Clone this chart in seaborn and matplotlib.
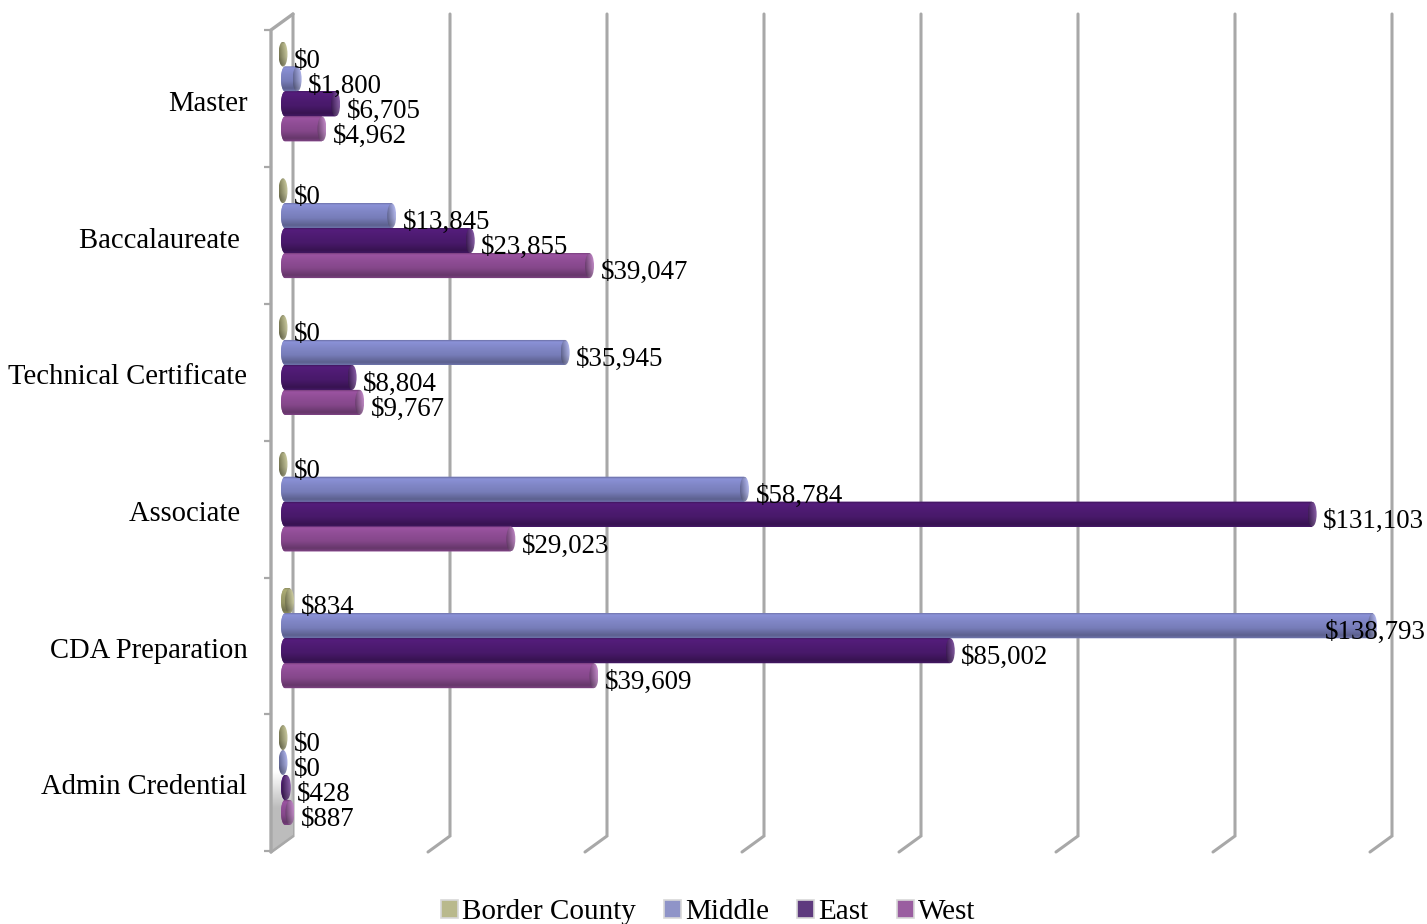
import numpy as np
import pandas as pd
import matplotlib
matplotlib.use("Agg")
import matplotlib.pyplot as plt
from matplotlib.patches import Ellipse, Polygon, Patch
from matplotlib.transforms import ScaledTranslation
from matplotlib.colors import to_rgb
import seaborn as sns

categories = ["Master", "Baccalaureate ", "Technical Certificate", "Associate ", "CDA Preparation", "Admin Credential"]
border_county = [0, 0, 0, 0, 834, 0]
middle = [1800, 13845, 35945, 58784, 138793, 0]
east = [6705, 23855, 8804, 131103, 85002, 428]
west = [4962, 39047, 9767, 29023, 39609, 887]
regions = ["Border County", "Middle", "East", "West"]
colors = ["#9a9a68", "#7c82c0", "#4b1a6e", "#8a4a90"]
legend_colors = ["#b9b98c", "#8f94c8", "#5e3a7e", "#9a5ea0"]
grid_values = [0, 20000, 40000, 60000, 80000, 100000, 120000, 140000]

W, H = 1427, 924
X0, SX = 283.0, 0.00785     # pixel of $0, pixels per dollar
Y0, SY = 91.5, 136.7        # pixel of first category, pixels per category
AX_LEFT = 264

def dx(p):  # pixel distance to dollars
    return p / SX
def xp(p):  # pixel to dollars
    return (p - X0) / SX
def yp(p):  # pixel to category units
    return (p - Y0) / SY

frame = pd.DataFrame({
    "Degree": np.tile(categories, 4),
    "Region": np.repeat(regions, 6),
    "Funding": border_county + middle + east + west,
})

sns.set_theme(style="white")
plt.rcParams["font.family"] = ["Liberation Serif", "DejaVu Serif"]

fig = plt.figure(figsize=(W / 100, H / 100), dpi=100)
ax = fig.add_axes([AX_LEFT / W, 0, 1 - AX_LEFT / W, 1])
sns.barplot(data=frame, y="Degree", x="Funding", hue="Region", order=categories,
            hue_order=regions, palette=colors, width=0.73, saturation=1,
            legend=False, ax=ax, zorder=3, linewidth=0)
ax.set_xlabel("")
ax.set_ylabel("")
ax.set_xticks([])
for s in ax.spines.values():
    s.set_visible(False)
ax.patch.set_alpha(0)

# value axis gridlines: back wall and the slanted floor piece
GRID = "#a8a8a8"
for v in grid_values:
    ax.plot([v + dx(10), v + dx(10), v - dx(12)], [yp(14), yp(836), yp(852)],
            color=GRID, lw=2.2, zorder=1, solid_joinstyle="miter")

# side wall
ax.plot([xp(271), xp(271), xp(293)], [yp(852), yp(30), yp(14)], color=GRID, lw=2.4, zorder=2,
        solid_joinstyle="miter")
ax.plot([xp(271), xp(293)], [yp(852), yp(836)], color=GRID, lw=1.5, zorder=2)
wall = Polygon([(xp(271), yp(852)), (xp(271), yp(760)), (xp(293), yp(760)), (xp(293), yp(836))],
               closed=True, facecolor="none", edgecolor="none")
ax.add_patch(wall)
fade = np.ones((64, 1, 4))
fade[:, :, :3] = 0.74
fade[:, 0, 3] = np.clip(np.linspace(-0.3, 2.2, 64), 0, 1)
im = ax.imshow(fade, extent=[xp(271), xp(293), yp(852), yp(760)], aspect="auto", zorder=1.5,
               interpolation="bilinear")
im.set_clip_path(wall)
for k in range(7):
    py = 30 + 136.9 * k
    ax.plot([xp(264), xp(271)], [yp(py), yp(py)], color=GRID, lw=1.6, zorder=2)

# cylinder shading of the bars
stops = [0.0, 0.06, 0.3, 0.6, 0.9, 1.0]
gains = [0.88, 1.12, 1.04, 0.96, 0.74, 0.88]
ramp = np.interp(np.linspace(0, 1, 48), stops, gains)
grey = np.array([0.72, 0.72, 0.72])
for container, base in zip(ax.containers, colors):
    rgb = np.array(to_rgb(base))
    shade = np.clip(ramp[:, None, None] * rgb[None, None, :], 0, 1)
    across = np.linspace(0, 1, 16)[None, :, None]
    cap = np.clip(ramp[:, None, None] * rgb[None, None, :] * (0.72 + 0.1 * across)
                  + grey[None, None, :] * (0.05 + 0.35 * across), 0, 1)
    for bar in container:
        x1 = bar.get_x() + bar.get_width()
        y0, h = bar.get_y(), bar.get_height()
        yc = y0 + h / 2
        start = dx(2)
        if x1 > start:
            bar.set_x(start)
            bar.set_width(x1 - start)
            t = np.linspace(np.pi / 2, 3 * np.pi / 2, 24)
            outline = [(start + dx(4) * np.cos(a), yc + h / 2 * np.sin(a)) for a in t]
            outline += [(x1, y0), (x1, y0 + h)]
            body = Polygon(outline, closed=True, facecolor=tuple(rgb), edgecolor="none", zorder=3.05)
            ax.add_patch(body)
            img = ax.imshow(shade, extent=[start - dx(4), x1, y0 + h, y0], aspect="auto", zorder=3.1,
                            interpolation="bilinear")
            img.set_clip_path(body)
        disc = Ellipse((x1, yc), dx(9), h, facecolor="none", edgecolor="none", zorder=3.2)
        ax.add_patch(disc)
        img = ax.imshow(cap, extent=[x1 - dx(4.5), x1 + dx(4.5), y0 + h, y0], aspect="auto", zorder=3.2,
                        interpolation="bilinear")
        img.set_clip_path(disc)
ax.set_xlim(xp(AX_LEFT), xp(W))
ax.set_ylim(yp(H), yp(0))

# value labels
for container, series in zip(ax.containers, [border_county, middle, east, west]):
    for bar, v in zip(container, series):
        y = bar.get_y() + bar.get_height() / 2
        off = 11 if v < 135000 else -48
        ax.annotate(f"${v:,.0f}", (v, y), xytext=(off, -7), textcoords="offset pixels",
                    ha="left", va="center", fontsize=19.4, color="black", zorder=5)

# category labels
ax.tick_params(axis="y", length=0, pad=12, labelsize=20.6, labelcolor="black")
shift = ScaledTranslation(0, -9.5 / 100, fig.dpi_scale_trans)
for lab in ax.get_yticklabels():
    lab.set_transform(lab.get_transform() + shift)

# legend
handles = [Patch(facecolor=c, edgecolor="#d8d8d8", lw=1.2) for c in legend_colors]
fig.legend(handles, regions, loc="center", bbox_to_anchor=(708 / W, 1 - 912 / H), ncol=4, frameon=False,
           fontsize=21, handlelength=0.58, handleheight=0.58, handletextpad=0.13, columnspacing=0.98,
           labelcolor="black", borderpad=0)

fig.savefig("out.png", dpi=100)
